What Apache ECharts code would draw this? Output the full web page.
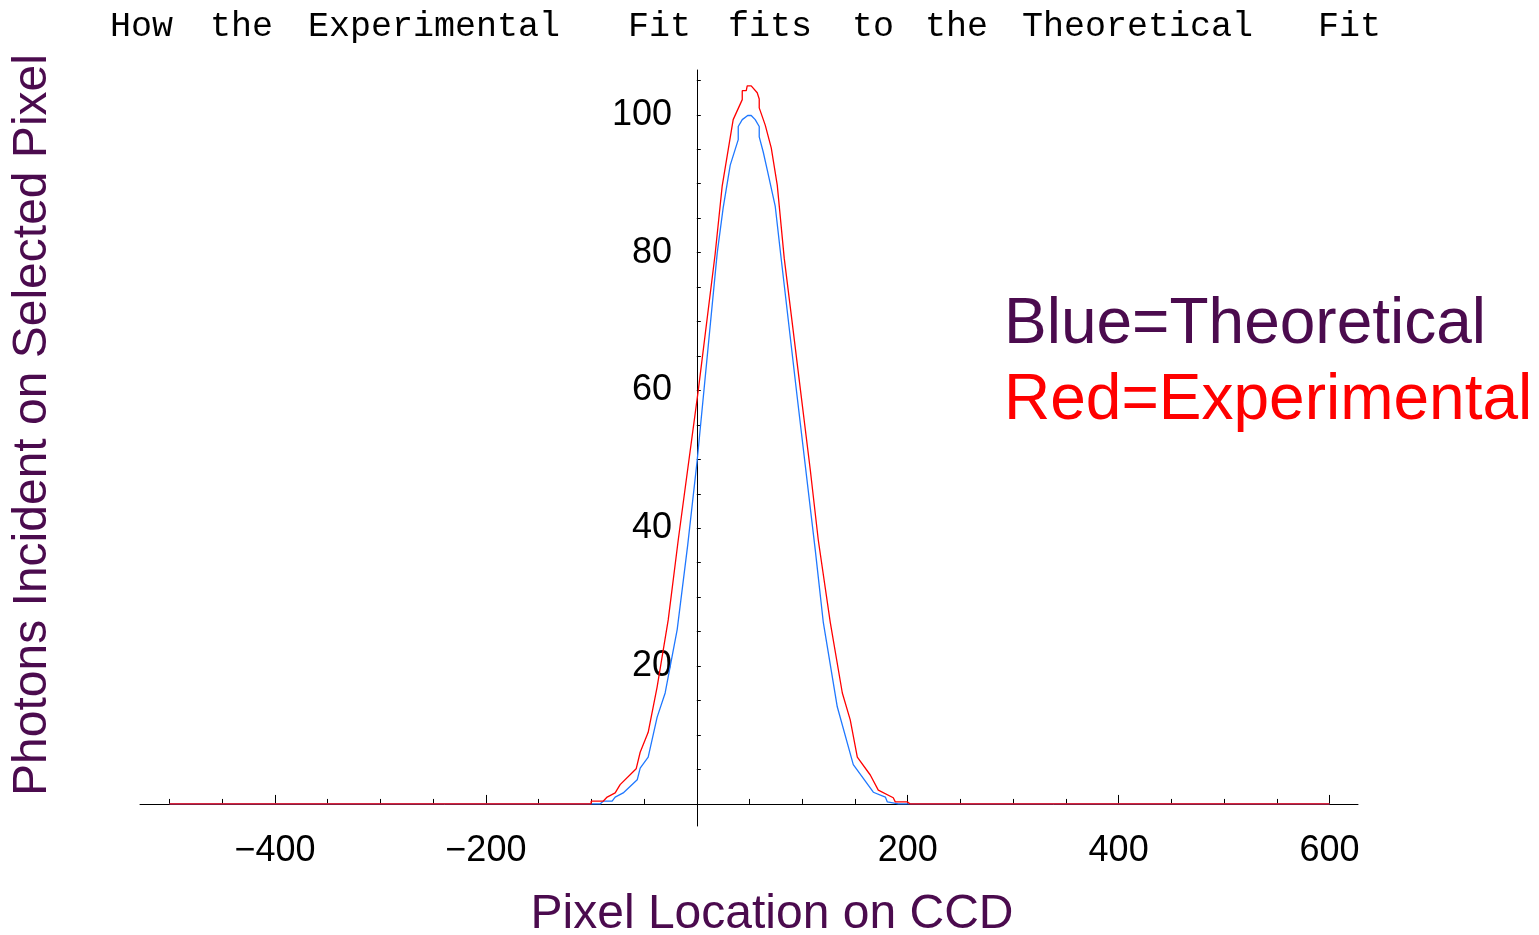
<!DOCTYPE html>
<html>
<head>
<meta charset="utf-8">
<script src="https://cdn.jsdelivr.net/npm/echarts@6/dist/echarts.min.js"></script>
<style>
html,body{margin:0;padding:0;background:#fff;}
#c{width:1539px;height:935px;}
</style>
</head>
<body>
<div id="c"></div>
<script>
// ---- data ----
const titleWords = ['How', 'the', 'Experimental', 'Fit', 'fits', 'to', 'the', 'Theoretical', 'Fit'];
const xTickLabels = [-400, -200, 200, 400, 600];
const xMinorTicks = [-500, -450, -350, -300, -250, -150, -100, -50, 50, 100, 150, 250, 300, 350, 450, 500, 550];
const yTickLabels = [20, 40, 60, 80, 100];
const yMinorTicks = [5, 10, 15, 20, 25, 30, 35, 40, 45, 50, 55, 60, 65, 70, 75, 80, 85, 90, 95, 100, 105];

const blueX = [-500, -91.7, -88.8, -80.3, -77.4, -69.8, -56.5, -53.7, -46.1, -37.6, -30.0, -18.6, -8.6, 0.4, 19.4, 25.0, 31.7, 39.3, 39.3, 43.1, 48.3, 51.6, 55.4, 59.2, 59.2, 63.0, 66.8, 74.4, 79.5, 95.0, 112.3, 120.0, 133.2, 148.4, 167.4, 178.8, 180.7, 191.1, 600];
const blueY = [0, 0, 0.4, 0.4, 1.0, 1.6, 3.5, 5.2, 6.8, 12.6, 16.1, 25.3, 37.6, 49.9, 80.0, 86.5, 92.7, 96.4, 98.3, 99.3, 99.9, 99.9, 99.3, 98.3, 96.8, 94.6, 92.0, 86.7, 79.8, 59.3, 36.9, 26.3, 14.1, 5.7, 1.7, 1.0, 0.3, 0, 0];

const redX = [-500, -100.2, -100.2, -88.8, -85.0, -77.4, -72.7, -57.5, -53.7, -46.1, -37.6, -27.1, -17.6, 1.3, 17.4, 24.1, 34.5, 43.1, 43.1, 46.9, 47.8, 51.6, 57.3, 59.2, 59.2, 64.9, 70.6, 76.3, 82.9, 90.5, 98.1, 107.6, 115.2, 126.6, 138.0, 145.5, 152.2, 164.5, 172.1, 186.3, 188.2, 199.6, 202.4, 600];
const redY = [0, 0, 0.4, 0.4, 1.0, 1.6, 2.8, 5.1, 7.5, 10.4, 17.0, 26.7, 38.3, 59.9, 79.8, 89.7, 99.3, 102.2, 103.5, 103.5, 104.2, 104.2, 103.2, 102.3, 101.0, 98.5, 95.2, 89.8, 79.2, 69.8, 60.3, 48.5, 38.3, 26.3, 16.1, 12.2, 6.8, 4.2, 2.0, 0.9, 0.3, 0.3, 0, 0];

const xName = 'Pixel Location on CCD';
const yName = 'Photons Incident on Selected Pixel';
const legendBlue = 'Blue=Theoretical';
const legendRed = 'Red=Experimental';

// ---- layout ----
const titleWordLeft = [110, 210, 308, 628, 728, 852, 925, 1022, 1318];
const X_MIN = -528, X_MAX = 627, Y_MIN = -3.2, Y_MAX = 106.5;
const gridBox = { left: 140, right: 181, top: 70, bottom: 109, outerBoundsMode: 'none' };
const purple = '#4b0b4e';
const sans = '"Liberation Sans", Arial, Helvetica, sans-serif';
const mono = '"Liberation Mono", "Courier New", Courier, monospace';

const chart = echarts.init(document.getElementById('c'), null, { renderer: 'canvas' });

const graphics = titleWords.map((w, i) => ({
  type: 'text', x: titleWordLeft[i], y: 27,
  style: { text: w, font: '35px ' + mono, fill: '#000', textAlign: 'left', textVerticalAlign: 'middle' }
}));
graphics.push({
  type: 'text', x: 772, y: 915,
  style: { text: xName, font: '48px ' + sans, fill: purple, textAlign: 'center', textVerticalAlign: 'middle' }
});
graphics.push({
  type: 'text', x: 33, y: 425, rotation: Math.PI / 2,
  style: { text: yName, font: '48px ' + sans, fill: purple, textAlign: 'center', textVerticalAlign: 'middle' }
});
graphics.push({
  type: 'text', x: 1004, y: 325,
  style: { text: legendBlue, font: '64px ' + sans, fill: purple, textAlign: 'left', textVerticalAlign: 'middle' }
});
graphics.push({
  type: 'text', x: 1004, y: 401,
  style: { text: legendRed, font: '64px ' + sans, fill: '#ff0000', textAlign: 'left', textVerticalAlign: 'middle' }
});

const labelStyle = { color: '#000', fontSize: 36, fontFamily: sans };

const option = {
  backgroundColor: '#fff',
  animation: false,
  graphic: graphics,
  grid: [Object.assign({}, gridBox), Object.assign({}, gridBox)],
  xAxis: [
    {
      type: 'value', gridIndex: 0, min: X_MIN, max: X_MAX,
      axisLine: { show: true, onZero: true, lineStyle: { color: '#000', width: 1 } },
      axisTick: { show: true, inside: true, length: 9, customValues: xTickLabels, lineStyle: { color: '#000', width: 1 } },
      axisLabel: Object.assign({ show: true, margin: 7, customValues: xTickLabels,
        formatter: v => String(v).replace('-', '\u2212') }, labelStyle),
      splitLine: { show: false }
    },
    {
      type: 'value', gridIndex: 1, min: X_MIN, max: X_MAX,
      axisLine: { show: false, onZero: true },
      axisTick: { show: true, inside: true, length: 5, customValues: xMinorTicks, lineStyle: { color: '#000', width: 1 } },
      axisLabel: { show: false },
      splitLine: { show: false }
    }
  ],
  yAxis: [
    {
      type: 'value', gridIndex: 0, min: Y_MIN, max: Y_MAX,
      axisLine: { show: true, onZero: true, lineStyle: { color: '#000', width: 1 } },
      axisTick: { show: true, inside: true, length: 4, customValues: yMinorTicks, lineStyle: { color: '#000', width: 1 } },
      axisLabel: Object.assign({ show: true, margin: -532, customValues: yTickLabels }, labelStyle),
      splitLine: { show: false }
    },
    {
      type: 'value', gridIndex: 1, min: Y_MIN, max: Y_MAX, show: false,
      splitLine: { show: false }
    }
  ],
  series: [
    {
      name: 'Theoretical', type: 'line', xAxisIndex: 0, yAxisIndex: 0,
      data: blueX.map((x, i) => [x, blueY[i]]),
      showSymbol: false, symbol: 'none',
      lineStyle: { color: '#1f78ff', width: 1.3 }, z: 3
    },
    {
      name: 'Experimental', type: 'line', xAxisIndex: 0, yAxisIndex: 0,
      data: redX.map((x, i) => [x, redY[i]]),
      showSymbol: false, symbol: 'none',
      lineStyle: { color: '#ff0000', width: 1.3 }, z: 4
    }
  ]
};
chart.setOption(option);
</script>
</body>
</html>
